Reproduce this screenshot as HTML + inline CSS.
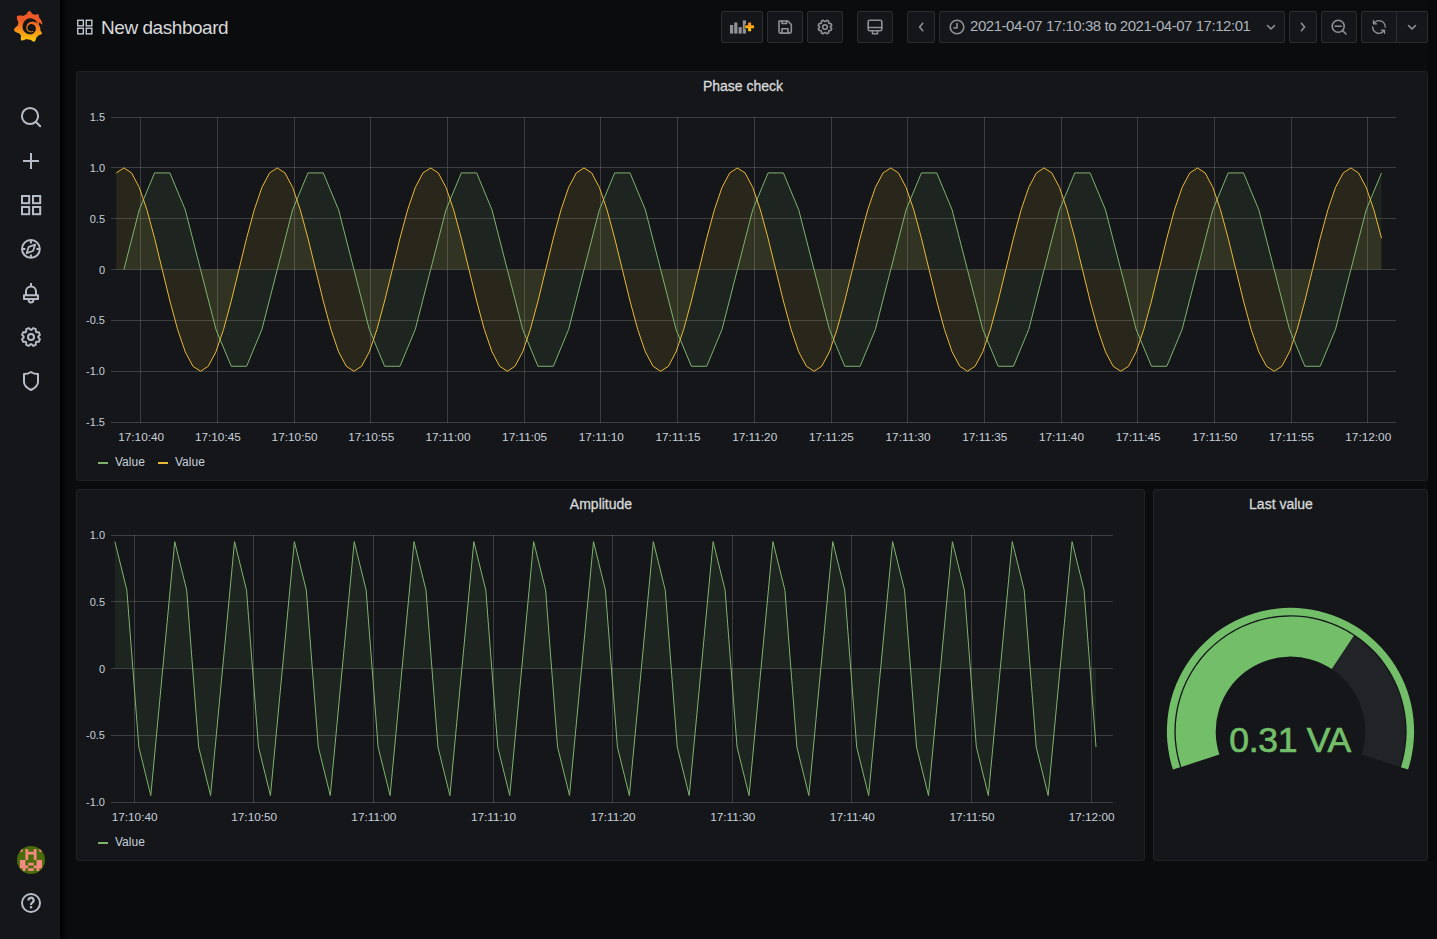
<!DOCTYPE html>
<html><head><meta charset="utf-8">
<style>
*{margin:0;padding:0;box-sizing:border-box}
html,body{width:1437px;height:939px;overflow:hidden;background:#0b0c0e;font-family:"Liberation Sans", sans-serif;color:#c7d0d9}
.abs{position:absolute}
#side{position:absolute;left:0;top:0;width:60px;height:939px;background:#141619}
#shad{position:absolute;left:60px;top:0;width:8px;height:939px;background:linear-gradient(90deg,rgba(0,0,0,0.85) 0,rgba(0,0,0,0.45) 40%,rgba(0,0,0,0) 100%)}
#rstrip{position:absolute;left:1428px;top:0;width:9px;height:861px;background:rgba(0,0,0,0.22)}
.panel{position:absolute;background:#141619;border:1px solid #202226;border-radius:3px}
.ptitle{position:absolute;font-size:14px;color:#d8d9da;white-space:nowrap;text-align:center;-webkit-text-stroke:0.3px #d8d9da;line-height:16px}
.yl{position:absolute;font-size:11px;text-align:right;color:#c7d0d9;white-space:nowrap;line-height:14px}
.xl{position:absolute;font-size:11.8px;text-align:center;color:#c7d0d9;white-space:nowrap;line-height:14px}
.btn{position:absolute;top:11px;height:32px;background:#141619;border:1px solid #2c2d31;border-radius:2px}
.leg{position:absolute;font-size:12px;color:#c7d0d9;white-space:nowrap;line-height:14px}
.dash{position:absolute;width:10px;height:2px}
svg{position:absolute;left:0;top:0}
</style></head><body>
<div id="shad"></div>
<div id="rstrip"></div>
<div id="side"></div>
<div class="panel" style="left:76px;top:71px;width:1352px;height:410px"></div>
<div class="panel" style="left:76px;top:489px;width:1069px;height:372px"></div>
<div class="panel" style="left:1153px;top:489px;width:275px;height:372px"></div>
<div class="btn" style="left:721px;width:42px"></div>
<div class="btn" style="left:767px;width:36px"></div>
<div class="btn" style="left:807px;width:36px"></div>
<div class="btn" style="left:857px;width:36px"></div>
<div class="btn" style="left:907px;width:28px"></div>
<div class="btn" style="left:939px;width:346px"></div>
<div class="btn" style="left:1289px;width:28px"></div>
<div class="btn" style="left:1321px;width:36px"></div>
<div class="btn" style="left:1361px;width:67px"></div>
<div class="ptitle" style="left:643px;top:78px;width:200px">Phase check</div>
<div class="ptitle" style="left:501px;top:496px;width:200px">Amplitude</div>
<div class="ptitle" style="left:1181px;top:496px;width:200px">Last value</div>
<svg width="1437" height="939" viewBox="0 0 1437 939"><path d="M111 117.5H1396M111 167.5H1396M111 218.5H1396M111 269.5H1396M111 320.5H1396M111 371.5H1396M111 422.5H1396M140.5 117V423M217.5 117V423M294.5 117V423M370.5 117V423M447.5 117V423M524.5 117V423M600.5 117V423M677.5 117V423M754.5 117V423M831.5 117V423M907.5 117V423M984.5 117V423M1061.5 117V423M1137.5 117V423M1214.5 117V423M1291.5 117V423M1367.5 117V423" stroke="rgba(200,200,200,0.22)" stroke-width="1" fill="none"/><path d="M123.9 269.6L123.9 269.6L139.24 209.84L154.57 172.91L169.91 172.91L185.25 209.84L200.59 269.6L215.92 329.36L231.26 366.29L246.6 366.29L261.93 329.36L277.27 269.6L292.61 209.84L307.94 172.91L323.28 172.91L338.62 209.84L353.96 269.6L369.29 329.36L384.63 366.29L399.97 366.29L415.3 329.36L430.64 269.6L445.98 209.84L461.31 172.91L476.65 172.91L491.99 209.84L507.33 269.6L522.66 329.36L538 366.29L553.34 366.29L568.67 329.36L584.01 269.6L599.35 209.84L614.68 172.91L630.02 172.91L645.36 209.84L660.69 269.6L676.03 329.36L691.37 366.29L706.71 366.29L722.04 329.36L737.38 269.6L752.72 209.84L768.05 172.91L783.39 172.91L798.73 209.84L814.06 269.6L829.4 329.36L844.74 366.29L860.08 366.29L875.41 329.36L890.75 269.6L906.09 209.84L921.42 172.91L936.76 172.91L952.1 209.84L967.43 269.6L982.77 329.36L998.11 366.29L1013.45 366.29L1028.78 329.36L1044.12 269.6L1059.46 209.84L1074.79 172.91L1090.13 172.91L1105.47 209.84L1120.81 269.6L1136.14 329.36L1151.48 366.29L1166.82 366.29L1182.15 329.36L1197.49 269.6L1212.83 209.84L1228.16 172.91L1243.5 172.91L1258.84 209.84L1274.18 269.6L1289.51 329.36L1304.85 366.29L1320.19 366.29L1335.52 329.36L1350.86 269.6L1366.2 209.84L1381.53 172.91L1381.53 269.6Z" fill="#7EB26D" fill-opacity="0.1"/><path d="M116.23 269.6L116.23 172.91L123.9 167.93L131.57 172.91L139.24 187.35L146.91 209.84L154.57 238.18L162.24 269.6L169.91 301.02L177.58 329.36L185.25 351.85L192.92 366.29L200.59 371.27L208.25 366.29L215.92 351.85L223.59 329.36L231.26 301.02L238.93 269.6L246.6 238.18L254.26 209.84L261.93 187.35L269.6 172.91L277.27 167.93L284.94 172.91L292.61 187.35L300.28 209.84L307.94 238.18L315.61 269.6L323.28 301.02L330.95 329.36L338.62 351.85L346.29 366.29L353.96 371.27L361.62 366.29L369.29 351.85L376.96 329.36L384.63 301.02L392.3 269.6L399.97 238.18L407.63 209.84L415.3 187.35L422.97 172.91L430.64 167.93L438.31 172.91L445.98 187.35L453.65 209.84L461.31 238.18L468.98 269.6L476.65 301.02L484.32 329.36L491.99 351.85L499.66 366.29L507.33 371.27L514.99 366.29L522.66 351.85L530.33 329.36L538 301.02L545.67 269.6L553.34 238.18L561 209.84L568.67 187.35L576.34 172.91L584.01 167.93L591.68 172.91L599.35 187.35L607.02 209.84L614.68 238.18L622.35 269.6L630.02 301.02L637.69 329.36L645.36 351.85L653.03 366.29L660.69 371.27L668.36 366.29L676.03 351.85L683.7 329.36L691.37 301.02L699.04 269.6L706.71 238.18L714.37 209.84L722.04 187.35L729.71 172.91L737.38 167.93L745.05 172.91L752.72 187.35L760.39 209.84L768.05 238.18L775.72 269.6L783.39 301.02L791.06 329.36L798.73 351.85L806.4 366.29L814.06 371.27L821.73 366.29L829.4 351.85L837.07 329.36L844.74 301.02L852.41 269.6L860.08 238.18L867.74 209.84L875.41 187.35L883.08 172.91L890.75 167.93L898.42 172.91L906.09 187.35L913.76 209.84L921.42 238.18L929.09 269.6L936.76 301.02L944.43 329.36L952.1 351.85L959.77 366.29L967.43 371.27L975.1 366.29L982.77 351.85L990.44 329.36L998.11 301.02L1005.78 269.6L1013.45 238.18L1021.11 209.84L1028.78 187.35L1036.45 172.91L1044.12 167.93L1051.79 172.91L1059.46 187.35L1067.13 209.84L1074.79 238.18L1082.46 269.6L1090.13 301.02L1097.8 329.36L1105.47 351.85L1113.14 366.29L1120.81 371.27L1128.47 366.29L1136.14 351.85L1143.81 329.36L1151.48 301.02L1159.15 269.6L1166.82 238.18L1174.48 209.84L1182.15 187.35L1189.82 172.91L1197.49 167.93L1205.16 172.91L1212.83 187.35L1220.5 209.84L1228.16 238.18L1235.83 269.6L1243.5 301.02L1251.17 329.36L1258.84 351.85L1266.51 366.29L1274.18 371.27L1281.84 366.29L1289.51 351.85L1297.18 329.36L1304.85 301.02L1312.52 269.6L1320.19 238.18L1327.85 209.84L1335.52 187.35L1343.19 172.91L1350.86 167.93L1358.53 172.91L1366.2 187.35L1373.87 209.84L1381.53 238.18L1381.53 269.6Z" fill="#EAB839" fill-opacity="0.1"/><path d="M123.9 269.6 L139.24 209.84 L154.57 172.91 L169.91 172.91 L185.25 209.84 L200.59 269.6 L215.92 329.36 L231.26 366.29 L246.6 366.29 L261.93 329.36 L277.27 269.6 L292.61 209.84 L307.94 172.91 L323.28 172.91 L338.62 209.84 L353.96 269.6 L369.29 329.36 L384.63 366.29 L399.97 366.29 L415.3 329.36 L430.64 269.6 L445.98 209.84 L461.31 172.91 L476.65 172.91 L491.99 209.84 L507.33 269.6 L522.66 329.36 L538 366.29 L553.34 366.29 L568.67 329.36 L584.01 269.6 L599.35 209.84 L614.68 172.91 L630.02 172.91 L645.36 209.84 L660.69 269.6 L676.03 329.36 L691.37 366.29 L706.71 366.29 L722.04 329.36 L737.38 269.6 L752.72 209.84 L768.05 172.91 L783.39 172.91 L798.73 209.84 L814.06 269.6 L829.4 329.36 L844.74 366.29 L860.08 366.29 L875.41 329.36 L890.75 269.6 L906.09 209.84 L921.42 172.91 L936.76 172.91 L952.1 209.84 L967.43 269.6 L982.77 329.36 L998.11 366.29 L1013.45 366.29 L1028.78 329.36 L1044.12 269.6 L1059.46 209.84 L1074.79 172.91 L1090.13 172.91 L1105.47 209.84 L1120.81 269.6 L1136.14 329.36 L1151.48 366.29 L1166.82 366.29 L1182.15 329.36 L1197.49 269.6 L1212.83 209.84 L1228.16 172.91 L1243.5 172.91 L1258.84 209.84 L1274.18 269.6 L1289.51 329.36 L1304.85 366.29 L1320.19 366.29 L1335.52 329.36 L1350.86 269.6 L1366.2 209.84 L1381.53 172.91" stroke="#7EB26D" stroke-width="1" fill="none" stroke-linejoin="round"/><path d="M116.23 172.91 L123.9 167.93 L131.57 172.91 L139.24 187.35 L146.91 209.84 L154.57 238.18 L162.24 269.6 L169.91 301.02 L177.58 329.36 L185.25 351.85 L192.92 366.29 L200.59 371.27 L208.25 366.29 L215.92 351.85 L223.59 329.36 L231.26 301.02 L238.93 269.6 L246.6 238.18 L254.26 209.84 L261.93 187.35 L269.6 172.91 L277.27 167.93 L284.94 172.91 L292.61 187.35 L300.28 209.84 L307.94 238.18 L315.61 269.6 L323.28 301.02 L330.95 329.36 L338.62 351.85 L346.29 366.29 L353.96 371.27 L361.62 366.29 L369.29 351.85 L376.96 329.36 L384.63 301.02 L392.3 269.6 L399.97 238.18 L407.63 209.84 L415.3 187.35 L422.97 172.91 L430.64 167.93 L438.31 172.91 L445.98 187.35 L453.65 209.84 L461.31 238.18 L468.98 269.6 L476.65 301.02 L484.32 329.36 L491.99 351.85 L499.66 366.29 L507.33 371.27 L514.99 366.29 L522.66 351.85 L530.33 329.36 L538 301.02 L545.67 269.6 L553.34 238.18 L561 209.84 L568.67 187.35 L576.34 172.91 L584.01 167.93 L591.68 172.91 L599.35 187.35 L607.02 209.84 L614.68 238.18 L622.35 269.6 L630.02 301.02 L637.69 329.36 L645.36 351.85 L653.03 366.29 L660.69 371.27 L668.36 366.29 L676.03 351.85 L683.7 329.36 L691.37 301.02 L699.04 269.6 L706.71 238.18 L714.37 209.84 L722.04 187.35 L729.71 172.91 L737.38 167.93 L745.05 172.91 L752.72 187.35 L760.39 209.84 L768.05 238.18 L775.72 269.6 L783.39 301.02 L791.06 329.36 L798.73 351.85 L806.4 366.29 L814.06 371.27 L821.73 366.29 L829.4 351.85 L837.07 329.36 L844.74 301.02 L852.41 269.6 L860.08 238.18 L867.74 209.84 L875.41 187.35 L883.08 172.91 L890.75 167.93 L898.42 172.91 L906.09 187.35 L913.76 209.84 L921.42 238.18 L929.09 269.6 L936.76 301.02 L944.43 329.36 L952.1 351.85 L959.77 366.29 L967.43 371.27 L975.1 366.29 L982.77 351.85 L990.44 329.36 L998.11 301.02 L1005.78 269.6 L1013.45 238.18 L1021.11 209.84 L1028.78 187.35 L1036.45 172.91 L1044.12 167.93 L1051.79 172.91 L1059.46 187.35 L1067.13 209.84 L1074.79 238.18 L1082.46 269.6 L1090.13 301.02 L1097.8 329.36 L1105.47 351.85 L1113.14 366.29 L1120.81 371.27 L1128.47 366.29 L1136.14 351.85 L1143.81 329.36 L1151.48 301.02 L1159.15 269.6 L1166.82 238.18 L1174.48 209.84 L1182.15 187.35 L1189.82 172.91 L1197.49 167.93 L1205.16 172.91 L1212.83 187.35 L1220.5 209.84 L1228.16 238.18 L1235.83 269.6 L1243.5 301.02 L1251.17 329.36 L1258.84 351.85 L1266.51 366.29 L1274.18 371.27 L1281.84 366.29 L1289.51 351.85 L1297.18 329.36 L1304.85 301.02 L1312.52 269.6 L1320.19 238.18 L1327.85 209.84 L1335.52 187.35 L1343.19 172.91 L1350.86 167.93 L1358.53 172.91 L1366.2 187.35 L1373.87 209.84 L1381.53 238.18" stroke="#EAB839" stroke-width="1" fill="none" stroke-linejoin="round"/><path d="M111 535.5H1113M111 601.5H1113M111 668.5H1113M111 735.5H1113M111 802.5H1113M134.5 535V803M253.5 535V803M373.5 535V803M493.5 535V803M612.5 535V803M732.5 535V803M851.5 535V803M971.5 535V803M1091.5 535V803" stroke="rgba(200,200,200,0.22)" stroke-width="1" fill="none"/><path d="M114.9 668.6L114.9 541.63L126.86 590.13L138.83 747.07L150.79 795.57L162.76 668.6L174.72 541.63L186.69 590.13L198.65 747.07L210.62 795.57L222.58 668.6L234.55 541.63L246.51 590.13L258.48 747.07L270.44 795.57L282.4 668.6L294.37 541.63L306.33 590.13L318.3 747.07L330.26 795.57L342.23 668.6L354.19 541.63L366.16 590.13L378.12 747.07L390.09 795.57L402.05 668.6L414.02 541.63L425.98 590.13L437.95 747.07L449.91 795.57L461.87 668.6L473.84 541.63L485.8 590.13L497.77 747.07L509.73 795.57L521.7 668.6L533.66 541.63L545.63 590.13L557.59 747.07L569.56 795.57L581.52 668.6L593.49 541.63L605.45 590.13L617.41 747.07L629.38 795.57L641.34 668.6L653.31 541.63L665.27 590.13L677.24 747.07L689.2 795.57L701.17 668.6L713.13 541.63L725.1 590.13L737.06 747.07L749.03 795.57L760.99 668.6L772.95 541.63L784.92 590.13L796.88 747.07L808.85 795.57L820.81 668.6L832.78 541.63L844.74 590.13L856.71 747.07L868.67 795.57L880.64 668.6L892.6 541.63L904.57 590.13L916.53 747.07L928.5 795.57L940.46 668.6L952.42 541.63L964.39 590.13L976.35 747.07L988.32 795.57L1000.28 668.6L1012.25 541.63L1024.21 590.13L1036.18 747.07L1048.14 795.57L1060.11 668.6L1072.07 541.63L1084.04 590.13L1096 747.07L1096 668.6Z" fill="#7EB26D" fill-opacity="0.1"/><path d="M114.9 541.63 L126.86 590.13 L138.83 747.07 L150.79 795.57 L162.76 668.6 L174.72 541.63 L186.69 590.13 L198.65 747.07 L210.62 795.57 L222.58 668.6 L234.55 541.63 L246.51 590.13 L258.48 747.07 L270.44 795.57 L282.4 668.6 L294.37 541.63 L306.33 590.13 L318.3 747.07 L330.26 795.57 L342.23 668.6 L354.19 541.63 L366.16 590.13 L378.12 747.07 L390.09 795.57 L402.05 668.6 L414.02 541.63 L425.98 590.13 L437.95 747.07 L449.91 795.57 L461.87 668.6 L473.84 541.63 L485.8 590.13 L497.77 747.07 L509.73 795.57 L521.7 668.6 L533.66 541.63 L545.63 590.13 L557.59 747.07 L569.56 795.57 L581.52 668.6 L593.49 541.63 L605.45 590.13 L617.41 747.07 L629.38 795.57 L641.34 668.6 L653.31 541.63 L665.27 590.13 L677.24 747.07 L689.2 795.57 L701.17 668.6 L713.13 541.63 L725.1 590.13 L737.06 747.07 L749.03 795.57 L760.99 668.6 L772.95 541.63 L784.92 590.13 L796.88 747.07 L808.85 795.57 L820.81 668.6 L832.78 541.63 L844.74 590.13 L856.71 747.07 L868.67 795.57 L880.64 668.6 L892.6 541.63 L904.57 590.13 L916.53 747.07 L928.5 795.57 L940.46 668.6 L952.42 541.63 L964.39 590.13 L976.35 747.07 L988.32 795.57 L1000.28 668.6 L1012.25 541.63 L1024.21 590.13 L1036.18 747.07 L1048.14 795.57 L1060.11 668.6 L1072.07 541.63 L1084.04 590.13 L1096 747.07" stroke="#7EB26D" stroke-width="1" fill="none" stroke-linejoin="round"/><path d="M1353.83 635.65A114.8 114.8 0 0 1 1399.68 766.88L1361.64 754.51A74.8 74.8 0 0 0 1331.76 669.01Z" fill="#222327"/><path d="M1181.32 766.88A114.8 114.8 0 0 1 1353.83 635.65L1331.76 669.01A74.8 74.8 0 0 0 1219.36 754.51Z" fill="#73BF69"/><path d="M1172.95 769.59A123.6 123.6 0 1 1 1408.05 769.59L1400.92 767.28A116.1 116.1 0 1 0 1180.08 767.28Z" fill="#73BF69"/><circle cx="30" cy="116" r="8.1" stroke="#b7bdc8" stroke-width="2" fill="none"/><path d="M36 122L40.2 126.2" stroke="#b7bdc8" stroke-width="2" fill="none" stroke-linecap="round"/><path d="M31 153V169M23 161H39" stroke="#b7bdc8" stroke-width="2" fill="none"/><rect x="22" y="196" width="7.2" height="7.2" stroke="#b7bdc8" stroke-width="2" fill="none"/><rect x="22" y="207" width="7.2" height="7.2" stroke="#b7bdc8" stroke-width="2" fill="none"/><rect x="33" y="196" width="7.2" height="7.2" stroke="#b7bdc8" stroke-width="2" fill="none"/><rect x="33" y="207" width="7.2" height="7.2" stroke="#b7bdc8" stroke-width="2" fill="none"/><circle cx="30.9" cy="248.9" r="8.9" stroke="#b7bdc8" stroke-width="2" fill="none"/><path d="M30.9 240.6V243.4M30.9 254.4V257.2M22.6 248.9H25.4M36.4 248.9H39.2" stroke="#b7bdc8" stroke-width="2" fill="none"/><path d="M35.2 244.6L33 251L26.6 253.2L28.8 246.8Z" stroke="#b7bdc8" stroke-width="1.8" fill="none" stroke-linejoin="round"/><path d="M31 283V286M26 295V291.4a5 5 0 0 1 10 0V295M24 295.2H38V298.9H24ZM28.6 300a2.4 2.4 0 0 0 4.8 0" stroke="#b7bdc8" stroke-width="2" fill="none" stroke-linejoin="round"/><path d="M31.51 329.72 L33.15 328.05 L35.81 329.16 L35.79 331.49 L36.51 332.21 L38.84 332.19 L39.95 334.85 L38.28 336.49 L38.28 337.51 L39.95 339.15 L38.84 341.81 L36.51 341.79 L35.79 342.51 L35.81 344.84 L33.15 345.95 L31.51 344.28 L30.49 344.28 L28.85 345.95 L26.19 344.84 L26.21 342.51 L25.49 341.79 L23.16 341.81 L22.05 339.15 L23.72 337.51 L23.72 336.49 L22.05 334.85 L23.16 332.19 L25.49 332.21 L26.21 331.49 L26.19 329.16 L28.85 328.05 L30.49 329.72Z" stroke="#b7bdc8" stroke-width="1.9" fill="none" stroke-linejoin="round"/><circle cx="31" cy="337" r="3" stroke="#b7bdc8" stroke-width="2" fill="none"/><path d="M24 374Q28 374 31 372Q34 374 38 374V382Q38 386.5 31 390Q24 386.5 24 382Z" stroke="#b7bdc8" stroke-width="2" fill="none" stroke-linejoin="round"/><circle cx="31" cy="903" r="9" stroke="#b7bdc8" stroke-width="2" fill="none"/><path d="M28.4 900.4a2.6 2.6 0 1 1 3.9 2.2c-.9.5-1.3 1-1.3 2V905" stroke="#b7bdc8" stroke-width="2.2" fill="none"/><rect x="29.9" y="906.1" width="2.3" height="2.3" fill="#b7bdc8"/><defs><clipPath id="avc"><circle cx="31" cy="860" r="14"/></clipPath></defs><g clip-path="url(#avc)"><rect x="17" y="846" width="28" height="28" fill="#4a6b0b"/><path d="M19.9 848.9h2.77v2.77h-2.77ZM25.44 848.9h2.77v2.77h-2.77ZM33.75 848.9h2.77v2.77h-2.77ZM39.29 848.9h2.77v2.77h-2.77ZM25.44 851.67h2.77v2.77h-2.77ZM28.21 851.67h2.77v2.77h-2.77ZM30.98 851.67h2.77v2.77h-2.77ZM33.75 851.67h2.77v2.77h-2.77ZM25.44 854.44h2.77v2.77h-2.77ZM33.75 854.44h2.77v2.77h-2.77ZM25.44 857.21h2.77v2.77h-2.77ZM33.75 857.21h2.77v2.77h-2.77ZM19.9 859.98h2.77v2.77h-2.77ZM22.67 859.98h2.77v2.77h-2.77ZM36.52 859.98h2.77v2.77h-2.77ZM39.29 859.98h2.77v2.77h-2.77ZM19.9 862.75h2.77v2.77h-2.77ZM22.67 862.75h2.77v2.77h-2.77ZM28.21 862.75h2.77v2.77h-2.77ZM30.98 862.75h2.77v2.77h-2.77ZM36.52 862.75h2.77v2.77h-2.77ZM39.29 862.75h2.77v2.77h-2.77ZM19.9 865.52h2.77v2.77h-2.77ZM22.67 865.52h2.77v2.77h-2.77ZM25.44 865.52h2.77v2.77h-2.77ZM33.75 865.52h2.77v2.77h-2.77ZM36.52 865.52h2.77v2.77h-2.77ZM39.29 865.52h2.77v2.77h-2.77ZM22.67 868.29h2.77v2.77h-2.77ZM28.21 868.29h2.77v2.77h-2.77ZM30.98 868.29h2.77v2.77h-2.77ZM36.52 868.29h2.77v2.77h-2.77Z" fill="#f4897f"/></g><defs><linearGradient id="lg" gradientUnits="userSpaceOnUse" x1="175.5" y1="445.4" x2="175.5" y2="114"><stop offset="0" stop-color="#FFF100"/><stop offset="1" stop-color="#F05A28"/></linearGradient></defs><g transform="translate(13.1,10.7) scale(0.0855)"><path d="M342,161.2c-0.6-6.1-1.6-13.1-3.6-20.9c-1.9-7.7-4.9-16.2-9.3-25c-4.4-8.8-10.2-17.9-17.7-26.8c-2.9-3.5-6.1-6.9-9.5-10.2c5.1-20.3-6.2-37.9-6.2-37.9c-19.5-1.2-31.9,6.1-36.5,9.4c-0.8-0.3-1.5-0.7-2.3-1c-3.3-1.3-6.7-2.6-10.3-3.7c-3.5-1.1-7.1-2.1-10.8-3c-3.7-0.9-7.4-1.6-11.2-2.2c-0.7-0.1-1.3-0.2-2-0.3c-8.5-27.2-32.9-38.6-32.9-38.6c-27.3,17.3-32.4,41.5-32.4,41.5s-0.1,0.5-0.3,1.4c-1.5,0.4-3,0.9-4.5,1.3c-2.1,0.6-4.2,1.4-6.2,2.2c-2.1,0.8-4.1,1.6-6.2,2.5c-4.1,1.8-8.2,3.8-12.2,6c-3.9,2.2-7.7,4.6-11.4,7.1c-0.5-0.2-1-0.4-1-0.4c-37.8-14.4-71.3,2.9-71.3,2.9c-3.1,40.2,15.1,65.5,18.7,70.1c-0.9,2.5-1.7,5-2.5,7.5c-2.8,9.1-4.9,18.4-6.2,28.1c-0.2,1.4-0.4,2.8-0.5,4.2C18.8,192.7,8.5,228,8.5,228c29.1,33.5,63.1,35.6,63.1,35.6c0,0,0.1-0.1,0.1-0.1c4.3,7.7,9.3,15,14.9,21.9c2.4,2.9,4.8,5.6,7.4,8.3c-10.6,30.4,1.5,55.6,1.5,55.6c32.4,1.2,53.7-14.2,58.2-17.7c3.2,1.1,6.5,2.1,9.8,2.9c10,2.6,20.2,4.1,30.4,4.5c2.5,0.1,5.1,0.2,7.6,0.1l1.2,0l0.8,0l1.6,0l1.6-0.1l0,0.1c15.3,21.8,42.1,24.9,42.1,24.9c19.1-20.1,20.2-40.1,20.2-44.4l0,0c0,0,0-0.1,0-0.3c0-0.4,0-0.6,0-0.6l0,0c0-0.3,0-0.6,0-0.9c4-2.8,7.8-5.8,11.4-9.1c7.6-6.9,14.3-14.8,19.9-23.3c0.5-0.8,1-1.6,1.5-2.4c21.6,1.2,36.9-13.4,36.9-13.4c-3.6-22.5-16.4-33.5-19.1-35.6l0,0c0,0-0.1-0.1-0.3-0.2c-0.2-0.1-0.2-0.2-0.2-0.2c0,0,0,0,0,0c-0.1-0.1-0.3-0.2-0.5-0.3c0.1-1.4,0.2-2.7,0.3-4.1c0.2-2.4,0.2-4.9,0.2-7.3l0-1.8l0-0.9l0-0.5c0-0.6,0-0.4,0-0.6l-0.1-1.5l-0.1-2c0-0.7-0.1-1.3-0.2-1.9c-0.1-0.6-0.1-1.3-0.2-1.9l-0.2-1.9l-0.3-1.9c-0.4-2.5-0.8-4.9-1.4-7.4c-2.3-9.7-6.1-18.9-11-27.2c-5-8.3-11.2-15.6-18.3-21.8c-7-6.2-14.9-11.200-23.1-14.9c-8.3-3.7-16.9-6.1-25.5-7.2c-4.3-0.6-8.6-0.8-12.9-0.7l-1.6,0l-0.4,0c-0.1,0-0.6,0-0.5,0l-0.7,0l-1.6,0.1c-0.6,0-1.2,0.1-1.7,0.1c-2.2,0.2-4.4,0.5-6.5,0.9c-8.6,1.6-16.7,4.7-23.8,9c-7.1,4.3-13.3,9.6-18.3,15.6c-5,6-8.9,12.7-11.6,19.6c-2.7,6.9-4.2,14.1-4.6,21c-0.1,1.7-0.1,3.5-0.1,5.2c0,0.4,0,0.9,0,1.3l0.1,1.4c0.1,0.8,0.1,1.7,0.2,2.5c0.3,3.5,1,6.9,1.9,10.1c1.9,6.5,4.9,12.4,8.6,17.4c3.7,5,8.2,9.1,12.9,12.4c4.7,3.2,9.8,5.5,14.8,7c5,1.5,10,2.1,14.7,2.1c0.6,0,1.2,0,1.7,0c0.3,0,0.6,0,0.9,0c0.3,0,0.6,0,0.9-0.1c0.5,0,1-0.1,1.5-0.1c0.1,0,0.3,0,0.4-0.1l0.5-0.1c0.3,0,0.6-0.1,0.9-0.1c0.6-0.1,1.1-0.2,1.7-0.3c0.6-0.1,1.1-0.2,1.6-0.4c1.1-0.2,2.1-0.6,3.1-0.9c2-0.7,4-1.5,5.8-2.4c1.9-0.9,3.6-2,5.3-3.1c0.5-0.3,1-0.7,1.5-1.1c1.9-1.5,2.3-4.3,0.7-6.2c-1.4-1.7-3.8-2.1-5.700-1c-0.5,0.3-0.9,0.5-1.4,0.8c-1.6,0.8-3.3,1.5-5,2.1c-1.8,0.6-3.6,1.1-5.5,1.4c-0.9,0.1-1.9,0.2-2.9,0.3c-0.5,0-1,0.1-1.5,0.1c-0.5,0-1,0-1.4,0c-0.5,0-1,0-1.5,0c-0.6,0-1.2,0-1.8-0.1c0,0-0.3,0-0.1,0l-0.2,0l-0.4,0c-0.3,0-0.5,0-0.8-0.1c-0.5-0.1-1.1-0.1-1.6-0.2c-4.1-0.6-8.2-1.8-12.1-3.6c-3.9-1.8-7.6-4.2-10.9-7.2c-3.3-3-6.2-6.5-8.5-10.4c-2.3-3.9-3.9-8.2-4.7-12.7c-0.4-2.2-0.6-4.5-0.6-6.8c0-0.6,0-1.2,0.1-1.9c0,0.2,0-0.1,0-0.1l0-0.2l0-0.5c0-0.3,0-0.6,0.1-0.9c0.1-1.2,0.3-2.4,0.5-3.6c1.6-9.4,6.3-18.4,13.6-25.3c1.8-1.7,3.8-3.3,5.8-4.7c2.1-1.5,4.3-2.7,6.6-3.8c2.3-1,4.6-2,7.1-2.6c2.4-0.7,4.9-1.1,7.4-1.4c1.2-0.1,2.5-0.2,3.8-0.2c0.3,0,0.6,0,0.9,0l1,0l0.6,0c0.2,0,0,0,0,0l0.2,0l1,0.1c2.7,0.2,5.3,0.6,7.8,1.1c5.1,1.1,10.1,3,14.7,5.6c9.2,5.1,17,13.1,21.7,22.8c2.4,4.8,4.1,10,4.9,15.3c0.2,1.3,0.4,2.7,0.5,4.1l0.1,1l0.1,1c0,0.3,0,0.7,0,1c0,0.3,0,0.7,0,1l0,0.9l0,1c0,0.6-0.1,1.6-0.1,2.2c-0.1,1.5-0.3,2.9-0.4,4.4c-0.2,1.4-0.4,2.9-0.7,4.3c-0.3,1.4-0.6,2.8-0.9,4.2c-0.7,2.8-1.6,5.5-2.6,8.2c-2.1,5.3-4.9,10.4-8.2,15.1c-6.7,9.4-15.8,17-26.3,21.8c-5.2,2.4-10.7,4.1-16.4,5c-2.8,0.5-5.7,0.8-8.6,0.9l-0.5,0l-0.4,0l-0.9,0l-1.4,0l-0.7,0c0.4,0-0.1,0-0.1,0l-0.3,0c-1.6,0-3.1-0.1-4.7-0.2c-6.2-0.5-12.3-1.6-18.2-3.3c-5.9-1.7-11.6-4-17-6.8c-10.8-5.8-20.4-13.7-27.9-23.3c-3.7-4.8-7-9.9-9.7-15.3c-2.7-5.4-4.8-11.1-6.4-16.9c-1.5-5.8-2.4-11.8-2.7-17.8l-0.1-1.1l0-0.3l0-0.3l0-0.6l0-1.1l0-0.4l0-0.5l0-1.1l0-0.4c0,0,0,0.1,0-0.1l0-0.9c0-1.5,0.1-3,0.1-4.5c0.2-3,0.5-6,0.9-9c0.4-3,0.9-6,1.6-9c1.3-5.9,3.1-11.7,5.4-17.2c4.5-11,10.8-21,18.4-29.3c1.9-2.1,3.8-4,5.9-5.9c2-1.9,4.2-3.6,6.4-5.3c2.2-1.6,4.4-3.2,6.8-4.6c2.3-1.4,4.7-2.7,7.1-3.9c1.2-0.6,2.5-1.2,3.7-1.7c0.6-0.3,1.3-0.5,1.9-0.8c0.6-0.3,1.3-0.5,1.9-0.7c2.6-1,5.2-1.9,7.8-2.6c0.7-0.2,1.3-0.4,2-0.5c0.7-0.2,1.3-0.3,2-0.5c1.3-0.3,2.7-0.6,4-0.8c0.7-0.1,1.3-0.2,2-0.3l1-0.1l1-0.1c0.7-0.1,1.3-0.1,2-0.2c0.8-0.1,1.5-0.1,2.3-0.2c0.6,0,1.2-0.1,1.8-0.1c0,0,0.2,0,0,0l0.4,0l0.9,0c0.5,0,1,0,1.5-0.1c2-0.1,4-0.1,5.900,0c3.9,0.1,7.8,0.6,11.6,1.2c7.6,1.3,14.9,3.6,21.6,6.6c13.4,6,24.8,15.2,33.1,25.2c4.2,5,7.9,10.4,10.9,15.8c3,5.4,5.3,10.8,7.1,15.9c0.2,0.6,0.4,1.2,0.6,1.9c0.9,2.8,3.8,4.5,6.7,4.1c3.1-0.4,5.3-3,5.3-6.1c0-0.2,0-0.4,0-0.6c-0.2-5.8-0.8-11.9-1.6-18.9C342,161.5,342,161.2,342,161.2z" fill="url(#lg)"/></g><rect x="730" y="25" width="3.2" height="8.6" fill="#8e9196"/><rect x="734.2" y="22.5" width="3.2" height="11.1" fill="#8e9196"/><rect x="738.6" y="27.2" width="3.2" height="6.4" fill="#8e9196"/><rect x="742.8" y="20.4" width="3.2" height="13.2" fill="#8e9196"/><defs><linearGradient id="pg" gradientUnits="userSpaceOnUse" x1="0" y1="22" x2="0" y2="31.5"><stop offset="0" stop-color="#FF7F2A"/><stop offset="1" stop-color="#FFD000"/></linearGradient></defs><path d="M744.8 26.8H754.2M749.6 22.2V31.4" stroke="#141619" stroke-width="5"/><path d="M745.2 26.8H754M749.6 22.6V31.2" stroke="url(#pg)" stroke-width="3"/><path d="M779 21H787.8L791.3 24.5V31.6Q791.3 33.1 789.8 33.1H780.5Q779 33.1 779 31.6Z" stroke="#8e9196" stroke-width="1.6" fill="none" stroke-linejoin="round" stroke-linecap="round"/><path d="M782 21V23.5H786.6V21M782 33.1V28.8H788V33.1" stroke="#8e9196" stroke-width="1.6" fill="none" stroke-linejoin="round" stroke-linecap="round"/><path d="M825.38 21.51 L826.67 20.3 L828.55 21.09 L828.61 22.85 L829.15 23.39 L830.91 23.45 L831.7 25.33 L830.49 26.62 L830.49 27.38 L831.7 28.67 L830.91 30.55 L829.15 30.61 L828.61 31.15 L828.55 32.91 L826.67 33.7 L825.38 32.49 L824.62 32.49 L823.33 33.7 L821.45 32.91 L821.39 31.15 L820.85 30.61 L819.09 30.55 L818.3 28.67 L819.51 27.38 L819.51 26.62 L818.3 25.33 L819.09 23.45 L820.85 23.39 L821.39 22.85 L821.45 21.09 L823.33 20.3 L824.62 21.51Z" stroke="#8e9196" stroke-width="1.6" fill="none" stroke-linejoin="round" stroke-linecap="round"/><circle cx="825" cy="27" r="2.3" stroke="#8e9196" stroke-width="1.6" fill="none" stroke-linejoin="round" stroke-linecap="round"/><rect x="868.2" y="20.2" width="13.6" height="10.6" rx="1.5" stroke="#8e9196" stroke-width="1.6" fill="none" stroke-linejoin="round" stroke-linecap="round"/><path d="M868.2 27.5H881.8M872.5 31V33.8H877.5V31" stroke="#8e9196" stroke-width="1.6" fill="none" stroke-linejoin="round" stroke-linecap="round"/><path d="M922.8 23.3L919.6 27L922.8 30.7" stroke="#8e9196" stroke-width="1.6" fill="none" stroke-linejoin="round" stroke-linecap="round"/><circle cx="957" cy="27" r="6.8" stroke="#8e9196" stroke-width="1.6" fill="none" stroke-linejoin="round" stroke-linecap="round"/><path d="M957 23.5V28H954" stroke="#8e9196" stroke-width="1.6" fill="none" stroke-linejoin="round" stroke-linecap="round"/><path d="M1267.5 25.5L1271 29L1274.5 25.5" stroke="#8e9196" stroke-width="1.6" fill="none" stroke-linejoin="round" stroke-linecap="round"/><path d="M1301.4 23.3L1304.6 27L1301.4 30.7" stroke="#8e9196" stroke-width="1.6" fill="none" stroke-linejoin="round" stroke-linecap="round"/><circle cx="1338.2" cy="26.2" r="6" stroke="#8e9196" stroke-width="1.6" fill="none" stroke-linejoin="round" stroke-linecap="round"/><path d="M1342.5 30.5L1346 34M1335.2 26.2H1341.2" stroke="#8e9196" stroke-width="1.6" fill="none" stroke-linejoin="round" stroke-linecap="round"/><path transform="translate(1370.6,18.6) scale(0.7)" fill="#8e9196" d="M19.91,15.51H15.38a1,1,0,0,0,0,2h2.4A8,8,0,0,1,4,12a1,1,0,0,0-2,0,10,10,0,0,0,16.88,7.23V21a1,1,0,0,0,2,0V16.5A1,1,0,0,0,19.91,15.51ZM12,2A10,10,0,0,0,5.12,4.77V3a1,1,0,0,0-2,0V7.5a1,1,0,0,0,1,1h4.5a1,1,0,0,0,0-2H6.22A8,8,0,0,1,20,12a1,1,0,0,0,2,0A10,10,0,0,0,12,2Z"/><path d="M1396.5 12V42" stroke="#2c2d31" stroke-width="1"/><path d="M1408.5 25.5L1412 29L1415.5 25.5" stroke="#8e9196" stroke-width="1.6" fill="none" stroke-linejoin="round" stroke-linecap="round"/><rect x="77.75" y="20.25" width="5.6" height="5.6" stroke="#c7d0d9" stroke-width="1.35" fill="none"/><rect x="77.75" y="28.25" width="5.6" height="5.6" stroke="#c7d0d9" stroke-width="1.35" fill="none"/><rect x="86.25" y="20.25" width="5.6" height="5.6" stroke="#c7d0d9" stroke-width="1.35" fill="none"/><rect x="86.25" y="28.25" width="5.6" height="5.6" stroke="#c7d0d9" stroke-width="1.35" fill="none"/></svg>
<div class="yl" style="top:110px;left:40px;width:65px">1.5</div><div class="yl" style="top:161px;left:40px;width:65px">1.0</div><div class="yl" style="top:212px;left:40px;width:65px">0.5</div><div class="yl" style="top:263px;left:40px;width:65px">0</div><div class="yl" style="top:313px;left:40px;width:65px">-0.5</div><div class="yl" style="top:364px;left:40px;width:65px">-1.0</div><div class="yl" style="top:415px;left:40px;width:65px">-1.5</div><div class="xl" style="top:430px;left:101.2px;width:80px">17:10:40</div><div class="xl" style="top:430px;left:177.89px;width:80px">17:10:45</div><div class="xl" style="top:430px;left:254.58px;width:80px">17:10:50</div><div class="xl" style="top:430px;left:331.27px;width:80px">17:10:55</div><div class="xl" style="top:430px;left:407.96px;width:80px">17:11:00</div><div class="xl" style="top:430px;left:484.65px;width:80px">17:11:05</div><div class="xl" style="top:430px;left:561.34px;width:80px">17:11:10</div><div class="xl" style="top:430px;left:638.03px;width:80px">17:11:15</div><div class="xl" style="top:430px;left:714.72px;width:80px">17:11:20</div><div class="xl" style="top:430px;left:791.41px;width:80px">17:11:25</div><div class="xl" style="top:430px;left:868.1px;width:80px">17:11:30</div><div class="xl" style="top:430px;left:944.79px;width:80px">17:11:35</div><div class="xl" style="top:430px;left:1021.48px;width:80px">17:11:40</div><div class="xl" style="top:430px;left:1098.17px;width:80px">17:11:45</div><div class="xl" style="top:430px;left:1174.86px;width:80px">17:11:50</div><div class="xl" style="top:430px;left:1251.55px;width:80px">17:11:55</div><div class="xl" style="top:430px;left:1328.24px;width:80px">17:12:00</div><div class="yl" style="top:528px;left:40px;width:65px">1.0</div><div class="yl" style="top:595px;left:40px;width:65px">0.5</div><div class="yl" style="top:662px;left:40px;width:65px">0</div><div class="yl" style="top:728px;left:40px;width:65px">-0.5</div><div class="yl" style="top:795px;left:40px;width:65px">-1.0</div><div class="xl" style="top:810px;left:94.6px;width:80px">17:10:40</div><div class="xl" style="top:810px;left:214.23px;width:80px">17:10:50</div><div class="xl" style="top:810px;left:333.86px;width:80px">17:11:00</div><div class="xl" style="top:810px;left:453.49px;width:80px">17:11:10</div><div class="xl" style="top:810px;left:573.12px;width:80px">17:11:20</div><div class="xl" style="top:810px;left:692.75px;width:80px">17:11:30</div><div class="xl" style="top:810px;left:812.38px;width:80px">17:11:40</div><div class="xl" style="top:810px;left:932.01px;width:80px">17:11:50</div><div class="xl" style="top:810px;left:1051.64px;width:80px">17:12:00</div>
<div class="dash" style="left:98px;top:462px;background:#7EB26D"></div><div class="leg" style="left:115px;top:455px">Value</div>
<div class="dash" style="left:158px;top:462px;background:#EAB839"></div><div class="leg" style="left:175px;top:455px">Value</div>
<div class="dash" style="left:98px;top:842px;background:#7EB26D"></div><div class="leg" style="left:115px;top:835px">Value</div>
<div class="abs" style="left:1190px;top:720px;width:200px;text-align:center;font-size:35.5px;letter-spacing:-0.3px;color:#73BF69;-webkit-text-stroke:0.7px #73BF69;line-height:40px">0.31 VA</div>
<div class="abs" style="left:101px;top:16.8px;font-size:19px;letter-spacing:-0.45px;color:#d8d9da;white-space:nowrap;line-height:22px">New dashboard</div>
<div class="abs" style="left:970px;top:16.8px;font-size:15px;letter-spacing:-0.45px;color:#aeb4bc;white-space:nowrap;line-height:17px">2021-04-07 17:10:38 to 2021-04-07 17:12:01</div>
</body></html>
